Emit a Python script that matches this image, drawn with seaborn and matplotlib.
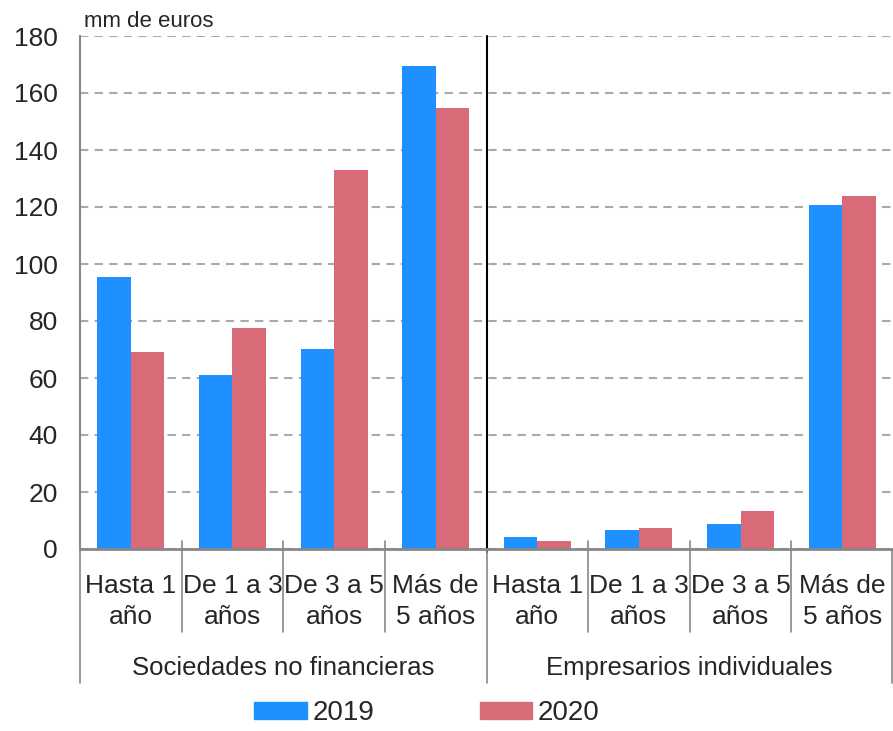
import numpy as np
import pandas as pd
import seaborn as sns
import matplotlib.pyplot as plt
from matplotlib.patches import Patch

# data (mm de euros)
groups = ["Sociedades no financieras", "Empresarios individuales"]
plazos = ["Hasta 1\naño", "De 1 a 3\naños", "De 3 a 5\naños", "Más de\n5 años"]
v2019 = [95.5, 61.0, 70.2, 169.5, 4.2, 6.7, 8.8, 120.7]
v2020 = [69.2, 77.6, 133.0, 154.8, 2.8, 7.4, 13.3, 123.9]
years = ["2019", "2020"]
colors = {"2019": "#1E90FF", "2020": "#D86B77"}

keys = [g + "|" + p for g in groups for p in plazos]
df = pd.DataFrame({
    "cat": keys * 2,
    "year": ["2019"] * 8 + ["2020"] * 8,
    "value": v2019 + v2020,
})

sns.set_style("white")
plt.rcParams["font.family"] = ["Liberation Sans", "DejaVu Sans"]

fig = plt.figure(figsize=(8.93, 7.31), dpi=100)
ax = fig.add_axes([80 / 893, 182 / 731, 813 / 893, 513 / 731])

sns.barplot(data=df, x="cat", y="value", hue="year", order=keys,
            palette=colors, saturation=1, width=0.66, ax=ax, legend=False,
            linewidth=0)

ax.set_xlim(-0.5, 7.5)
ax.set_ylim(0, 180)
ax.set_yticks(np.arange(0, 181, 20))
ax.tick_params(axis="y", length=0, pad=16, labelsize=19)
ax.set_xticks([])
ax.set_xlabel("")
ax.set_ylabel("")
ax.yaxis.grid(True, color="#AAAAAA", linestyle=(0, (4, 3)), linewidth=1.5)
ax.set_axisbelow(True)
for s in ["top", "right"]:
    ax.spines[s].set_visible(False)
ax.spines["left"].set_color("#888888")
ax.spines["left"].set_linewidth(1.5)
ax.spines["bottom"].set_color("#888888")
ax.spines["bottom"].set_linewidth(2)

# separator between groups
ax.plot([3.5, 3.5], [-1, 180], color="black", lw=1.5, clip_on=False)

# category labels and separators under the axis
trans = ax.get_xaxis_transform()
for i, lab in enumerate(plazos * 2):
    ax.text(i, -0.048, lab, transform=trans, ha="center", va="top",
            fontsize=19, linespacing=1.38)
for x in np.arange(0.5, 7.5, 1.0):
    if x == 3.5:
        continue
    ax.plot([x, x], [0.015, -0.162], transform=trans, color="#888888",
            lw=1.2, clip_on=False)
for x in [-0.5, 3.5, 7.49]:
    ax.plot([x, x], [0, -0.262], transform=trans, color="#888888",
            lw=1.2, clip_on=False)
for j, g in enumerate(groups):
    ax.text(1.5 + 4 * j, -0.232, g, transform=trans, ha="center", va="center",
            fontsize=18.5)

ax.text(0.005, 1.008, "mm de euros", transform=ax.transAxes, ha="left",
        va="bottom", fontsize=16)

handles = [Patch(color=colors[y], label=y) for y in years]
fig.legend(handles=handles, loc="lower center", ncol=2, frameon=False,
           bbox_to_anchor=(0.478, -0.028), fontsize=20, handlelength=1.9,
           handleheight=0.55, columnspacing=3.8, handletextpad=0.2)

fig.savefig("out.png", dpi=100)
